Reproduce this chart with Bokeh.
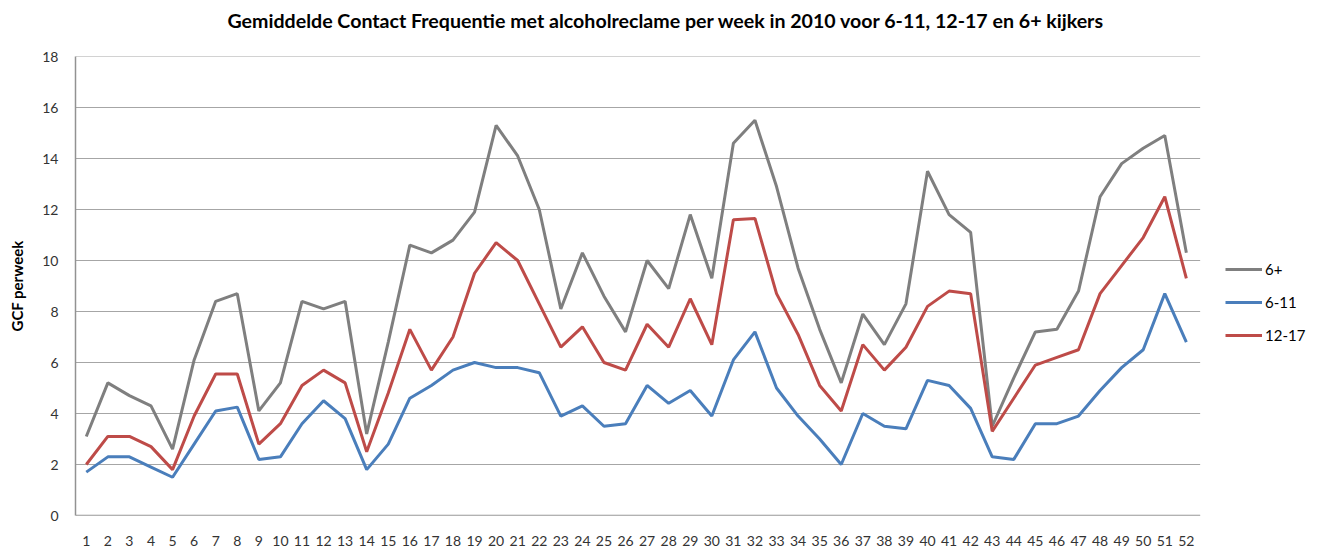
from bokeh.plotting import figure
from bokeh.models import Legend, LegendItem, FixedTicker, Range1d, Title
from bokeh.embed import file_html
from bokeh.resources import INLINE

weeks = list(range(1, 53))

plus6 = [3.1, 5.2, 4.7, 4.3, 2.6, 6.1, 8.4, 8.7, 4.1, 5.2,
         8.4, 8.1, 8.4, 3.2, 6.8, 10.6, 10.3, 10.8, 11.9, 15.3,
         14.1, 12.0, 8.1, 10.3, 8.6, 7.2, 10.0, 8.9, 11.8, 9.3,
         14.6, 15.5, 12.9, 9.7, 7.3, 5.2, 7.9, 6.7, 8.3, 13.5,
         11.8, 11.1, 3.5, 5.4, 7.2, 7.3, 8.8, 12.5, 13.8, 14.4,
         14.9, 10.3]

age6_11 = [1.7, 2.3, 2.3, 1.9, 1.5, 2.8, 4.1, 4.25, 2.2, 2.3,
           3.6, 4.5, 3.8, 1.8, 2.8, 4.6, 5.1, 5.7, 6.0, 5.8,
           5.8, 5.6, 3.9, 4.3, 3.5, 3.6, 5.1, 4.4, 4.9, 3.9,
           6.1, 7.2, 5.0, 3.9, 3.0, 2.0, 4.0, 3.5, 3.4, 5.3,
           5.1, 4.2, 2.3, 2.2, 3.6, 3.6, 3.9, 4.9, 5.8, 6.5,
           8.7, 6.8]

age12_17 = [2.0, 3.1, 3.1, 2.7, 1.8, 3.9, 5.55, 5.55, 2.8, 3.6,
            5.1, 5.7, 5.2, 2.5, 4.8, 7.3, 5.7, 7.0, 9.5, 10.7,
            10.0, 8.3, 6.6, 7.4, 6.0, 5.7, 7.5, 6.6, 8.5, 6.7,
            11.6, 11.65, 8.7, 7.1, 5.1, 4.1, 6.7, 5.7, 6.6, 8.2,
            8.8, 8.7, 3.3, 4.6, 5.9, 6.2, 6.5, 8.7, 9.8, 10.9,
            12.5, 9.3]

y_ticks = list(range(0, 19, 2))

FONT = "Lato"

W, H = 1325, 548
LEFT, TOP, BOTTOM, RIGHT = 75, 56, 31, 5
frame_w = W - LEFT - RIGHT
px_per_week = 21.57
x_start = 0.5
x_end = x_start + frame_w / px_per_week
grid_end = len(weeks) + 0.64

p = figure(width=W, height=H,
           x_range=Range1d(x_start, x_end), y_range=Range1d(0, 18),
           output_backend="svg", toolbar_location=None,
           min_border_left=LEFT, min_border_right=RIGHT,
           min_border_top=TOP, min_border_bottom=BOTTOM)

p.title.text = "Gemiddelde Contact Frequentie met alcoholreclame per week in 2010 voor 6-11, 12-17 en 6+ kijkers"
p.title.align = "left"
p.title.text_font = FONT
p.title.text_font_style = "bold"
p.title.text_font_size = "19.6px"
p.title.text_color = "#000000"
p.title.offset = 152
p.title.standoff = 0

# empty spacer between title and plot area
spacer = Title(text=" ", text_font_size="10px", standoff=12)
p.add_layout(spacer, "above")

p.outline_line_color = None
p.background_fill_color = "white"
p.border_fill_color = "white"

p.xgrid.grid_line_color = None
p.ygrid.grid_line_color = None
p.xaxis.ticker = FixedTicker(ticks=weeks)
p.yaxis.ticker = FixedTicker(ticks=y_ticks)

# horizontal gridlines ending at the last week's band edge
p.segment(x0=[x_start] * len(y_ticks), y0=y_ticks,
          x1=[grid_end] * len(y_ticks), y1=y_ticks,
          line_color="#a6a6a6", line_width=1)
# bottom axis line
p.segment(x0=[x_start], y0=[0], x1=[grid_end], y1=[0],
          line_color="#929292", line_width=1.5)

for ax in (p.xaxis, p.yaxis):
    ax.major_tick_line_color = None
    ax.minor_tick_line_color = None
    ax.major_label_text_font = FONT
    ax.major_label_text_font_size = "14px"
    ax.major_label_text_color = "#333333"

p.xaxis.axis_line_color = None
p.yaxis.axis_line_color = "#929292"
p.yaxis.axis_line_width = 1.5

p.xaxis.major_label_standoff = 14
p.yaxis.major_label_standoff = 11
p.yaxis.axis_label = "GCF perweek"
p.yaxis.axis_label_text_font = FONT
p.yaxis.axis_label_text_font_style = "bold"
p.yaxis.axis_label_text_font_size = "15px"
p.yaxis.axis_label_text_color = "#000000"
p.yaxis.axis_label_standoff = 13

r1 = p.line(weeks, plus6, line_color="#7f7f7f", line_width=3)
r2 = p.line(weeks, age6_11, line_color="#4a7ebb", line_width=3)
r3 = p.line(weeks, age12_17, line_color="#be4b48", line_width=3)

legend = Legend(items=[LegendItem(label="6+", renderers=[r1]),
                       LegendItem(label="6-11", renderers=[r2]),
                       LegendItem(label="12-17", renderers=[r3])],
                location=(1150, 170), margin=0, padding=0, spacing=13,
                glyph_width=37, glyph_height=20, label_height=20,
                label_standoff=3, label_text_font=FONT,
                label_text_font_size="15px", label_text_color="#000000",
                border_line_color=None, background_fill_alpha=0)
p.add_layout(legend, "center")

open("out.html", "w").write(file_html(p, INLINE))
